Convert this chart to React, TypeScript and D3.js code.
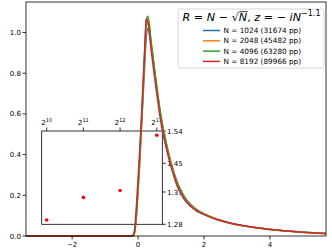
import React, { useEffect, useRef } from 'react';
import * as d3 from 'd3';

// shared x grid of the curves
const xs = [-3.4, -0.3, -0.2, -0.15, -0.1, -0.05, 0, 0.05, 0.1, 0.15, 0.2, 0.25, 0.3, 0.4, 0.5, 0.6, 0.7, 0.8, 1.0, 1.2, 1.4, 1.6, 1.8, 2.0, 2.4, 2.8, 3.2, 3.6, 4.0, 4.5, 5.0, 5.7];

const y1024 = [0, 0, 0, 0, 0.02, 0.1, 0.22, 0.36, 0.52, 0.68, 0.84, 0.98, 1.02, 0.93, 0.81, 0.69, 0.58, 0.5, 0.36, 0.26, 0.195, 0.155, 0.128, 0.11, 0.083, 0.064, 0.05, 0.04, 0.032, 0.024, 0.018, 0.012];
const y2048 = [0, 0, 0, 0, 0.025, 0.11, 0.24, 0.38, 0.54, 0.71, 0.88, 1.03, 1.05, 0.94, 0.81, 0.69, 0.58, 0.495, 0.355, 0.255, 0.19, 0.152, 0.125, 0.108, 0.082, 0.063, 0.05, 0.04, 0.032, 0.024, 0.018, 0.012];
const y4096 = [0, 0, 0, 0, 0.025, 0.11, 0.25, 0.39, 0.55, 0.72, 0.9, 1.06, 1.08, 0.95, 0.82, 0.69, 0.58, 0.49, 0.35, 0.25, 0.187, 0.15, 0.123, 0.106, 0.081, 0.063, 0.05, 0.04, 0.032, 0.024, 0.018, 0.012];
const y8192 = [0, 0, 0, 0.005, 0.04, 0.15, 0.28, 0.42, 0.58, 0.75, 0.92, 1.07, 1.05, 0.91, 0.78, 0.66, 0.55, 0.47, 0.34, 0.24, 0.18, 0.145, 0.12, 0.105, 0.08, 0.063, 0.05, 0.04, 0.033, 0.025, 0.018, 0.012];

const seriesNames = ['N = 1024 (31674 pp)', 'N = 2048 (45482 pp)', 'N = 4096 (63280 pp)', 'N = 8192 (89966 pp)'];
const seriesColors = ['#1f77b4', '#ff7f0e', '#2ca02c', '#d62728'];

const xTicks = [-2, 0, 2, 4];
const yTicks = [0, 0.2, 0.4, 0.6, 0.8, 1.0];

// inset: R value vs N
const insetN = [1024, 2048, 4096, 8192];
const insetR = [1.292, 1.355, 1.374, 1.528];
const insetYTicks = [1.28, 1.37, 1.45, 1.54];
const insetXExp = [10, 11, 12, 13];

const App = () => {
  const ref = useRef<SVGSVGElement>(null);

  useEffect(() => {
    const svg = d3.select(ref.current);
    svg.selectAll('*').remove();
    const font = 'DejaVu Sans, sans-serif';

    const x = d3.scaleLinear().domain([-3.4, 5.7]).range([26, 326]);
    const y = d3.scaleLinear().domain([0, 1.15]).range([236, 2]);

    const allY = [y1024, y2048, y4096, y8192];
    const line = d3
      .line<number>()
      .x((d, i) => x(xs[i]))
      .y((d) => y(d))
      .curve(d3.curveMonotoneX);

    // inset axes (transparent)
    const ix = d3.scaleLog().base(2).domain([Math.pow(2, 9.864), Math.pow(2, 13.15)]).range([41.7, 162.3]);
    const iy = d3.scaleLinear().domain([1.28, 1.54]).range([224.3, 131]);

    const ins = svg.append('g');
    ins.append('rect')
      .attr('x', 41.7).attr('y', 131)
      .attr('width', 162.3 - 41.7).attr('height', 224.3 - 131)
      .attr('fill', 'none').attr('stroke', 'black').attr('stroke-width', 0.8);

    insetXExp.forEach((e) => {
      const px = ix(Math.pow(2, e));
      ins.append('line').attr('x1', px).attr('x2', px).attr('y1', 131).attr('y2', 127.5)
        .attr('stroke', 'black').attr('stroke-width', 0.8);
      const t = ins.append('text').attr('x', px).attr('y', 124.5)
        .attr('text-anchor', 'middle').attr('font-family', font).attr('font-size', 7);
      t.append('tspan').text('2');
      t.append('tspan').attr('dy', -3).attr('font-size', 5).text(String(e));
    });

    insetYTicks.forEach((v) => {
      const py = iy(v);
      ins.append('line').attr('x1', 162.3).attr('x2', 165.8).attr('y1', py).attr('y2', py)
        .attr('stroke', 'black').attr('stroke-width', 0.8);
      ins.append('text').attr('x', 167).attr('y', py + 2.5)
        .attr('font-family', font).attr('font-size', 7).text(v.toFixed(2));
    });

    ins.selectAll('circle').data(insetN).enter().append('circle')
      .attr('cx', (d) => ix(d))
      .attr('cy', (d, i) => iy(insetR[i]))
      .attr('r', 1.8)
      .attr('fill', 'red');

    // curves
    allY.forEach((ys, k) => {
      svg.append('path')
        .attr('d', line(ys))
        .attr('fill', 'none')
        .attr('stroke', seriesColors[k])
        .attr('stroke-width', 1.5)
        .attr('stroke-linejoin', 'round');
    });

    // main axes
    svg.append('rect').attr('x', 26).attr('y', 2).attr('width', 300).attr('height', 234)
      .attr('fill', 'none').attr('stroke', 'black').attr('stroke-width', 0.8);

    xTicks.forEach((v) => {
      svg.append('line').attr('x1', x(v)).attr('x2', x(v)).attr('y1', 236).attr('y2', 239.5)
        .attr('stroke', 'black').attr('stroke-width', 0.8);
      svg.append('text').attr('x', x(v)).attr('y', 246.5).attr('text-anchor', 'middle')
        .attr('font-family', font).attr('font-size', 7)
        .text(v < 0 ? '\u2212' + Math.abs(v) : String(v));
    });
    yTicks.forEach((v) => {
      svg.append('line').attr('x1', 22.5).attr('x2', 26).attr('y1', y(v)).attr('y2', y(v))
        .attr('stroke', 'black').attr('stroke-width', 0.8);
      svg.append('text').attr('x', 21).attr('y', y(v) + 2.5).attr('text-anchor', 'end')
        .attr('font-family', font).attr('font-size', 7).text(v.toFixed(1));
    });

    // legend
    const lg = svg.append('g');
    lg.append('rect').attr('x', 178).attr('y', 9).attr('width', 146).attr('height', 59)
      .attr('rx', 2).attr('fill', 'white').attr('fill-opacity', 0.8)
      .attr('stroke', '#cccccc').attr('stroke-width', 0.8);

    const title = lg.append('text').attr('x', 251.5).attr('y', 20.5).attr('text-anchor', 'middle')
      .attr('font-family', font).attr('font-size', 11.2);
    title.append('tspan').attr('font-style', 'italic').text('R');
    title.append('tspan').text(' = ');
    title.append('tspan').attr('font-style', 'italic').text('N');
    title.append('tspan').text(' \u2212 ');
    const sq = title.append('tspan').text('\u221A');
    const nUnder = title.append('tspan').attr('font-style', 'italic').text('N');
    title.append('tspan').text(', ');
    title.append('tspan').attr('font-style', 'italic').text('z');
    title.append('tspan').text(' = \u2212 ');
    title.append('tspan').attr('font-style', 'italic').text('iN');
    title.append('tspan').attr('dy', -5).attr('font-size', 8).text('\u22121.1');

    const sb = (sq.node() as SVGGraphicsElement).getBBox();
    const nb = (nUnder.node() as SVGGraphicsElement).getBBox();
    lg.append('line').attr('x1', sb.x + sb.width - 0.5).attr('x2', nb.x + nb.width)
      .attr('y1', sb.y + 1.2).attr('y2', sb.y + 1.2)
      .attr('stroke', 'black').attr('stroke-width', 0.8);

    seriesNames.forEach((name, k) => {
      const ly = 30.5 + k * 10.3;
      lg.append('line').attr('x1', 203).attr('x2', 220).attr('y1', ly).attr('y2', ly)
        .attr('stroke', seriesColors[k]).attr('stroke-width', 1.5);
      lg.append('text').attr('x', 223.5).attr('y', ly + 2.6)
        .attr('font-family', font).attr('font-size', 7.3).text(name);
    });
  }, []);

  return (
    <svg
      ref={ref}
      width={332}
      height={249}
      style={{ position: 'absolute', left: 0, top: 0, background: 'white' }}
    />
  );
};

export default App;
